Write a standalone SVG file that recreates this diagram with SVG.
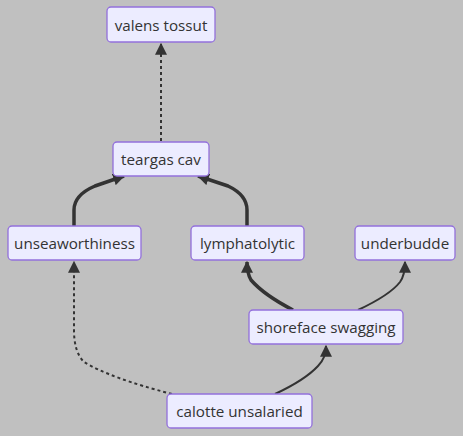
<svg xmlns="http://www.w3.org/2000/svg" width="463" height="436" viewBox="0 0 463 436">
<defs>
<marker id="ah" viewBox="0 0 10 10" refX="9" refY="5" markerUnits="userSpaceOnUse" markerWidth="12" markerHeight="12" orient="auto">
<path d="M0,0 L10,5 L0,10 z" fill="#333"/>
</marker>
<style>
.node rect{fill:#ECECFF;stroke:#9370DB;stroke-width:1.3}
.node text{font-family:"Open Sans","DejaVu Sans",sans-serif;font-size:15.2px;fill:#333;text-anchor:middle;dominant-baseline:central}
.e{fill:none;stroke:#333;stroke-width:2;marker-end:url(#ah)}
.thick{stroke-width:3.5}
.dot{stroke-dasharray:3 3}
</style>
</defs>
<rect width="463" height="436" fill="#c0c0c0"/>
<g id="connectors">
<path class="e dot" d="M161,141 L161,44"/>
<path class="e thick" d="M74,226 L74,210 Q74,195 95,186 L124,176"/>
<path class="e thick" d="M247,226 L247,210 Q247,195 228,186 L198,176"/>
<path class="e thick" d="M293,310 Q264,295 251,280 Q247,273 247,262"/>
<path class="e" d="M358,310 Q390,295 400,282 Q405,275 405,262"/>
<path class="e" d="M275,394 Q305,380 318,366 Q326,358 326,346"/>
<path class="e dot" d="M172,394 Q110,378 84,362 Q74,352 74,330 L74,262"/>
</g>
<g id="valens" class="node"><rect x="107" y="7" width="108" height="35" rx="4"/><text x="161" y="25">valens tossut</text></g>
<g id="teargas" class="node"><rect x="113" y="142" width="96" height="34" rx="4"/><text x="161" y="159">teargas cav</text></g>
<g id="unseaworthiness" class="node"><rect x="8" y="226" width="133" height="34" rx="4"/><text x="74.5" y="243">unseaworthiness</text></g>
<g id="lymphatolytic" class="node"><rect x="191" y="226" width="113" height="34" rx="4"/><text x="247.5" y="243">lymphatolytic</text></g>
<g id="underbudde" class="node"><rect x="355" y="226" width="100" height="34" rx="4"/><text x="405" y="243">underbudde</text></g>
<g id="shoreface" class="node"><rect x="249" y="310" width="154" height="34" rx="4"/><text x="326" y="327">shoreface swagging</text></g>
<g id="calotte" class="node"><rect x="167" y="394" width="145" height="34" rx="4"/><text x="239.5" y="411">calotte unsalaried</text></g>
</svg>
